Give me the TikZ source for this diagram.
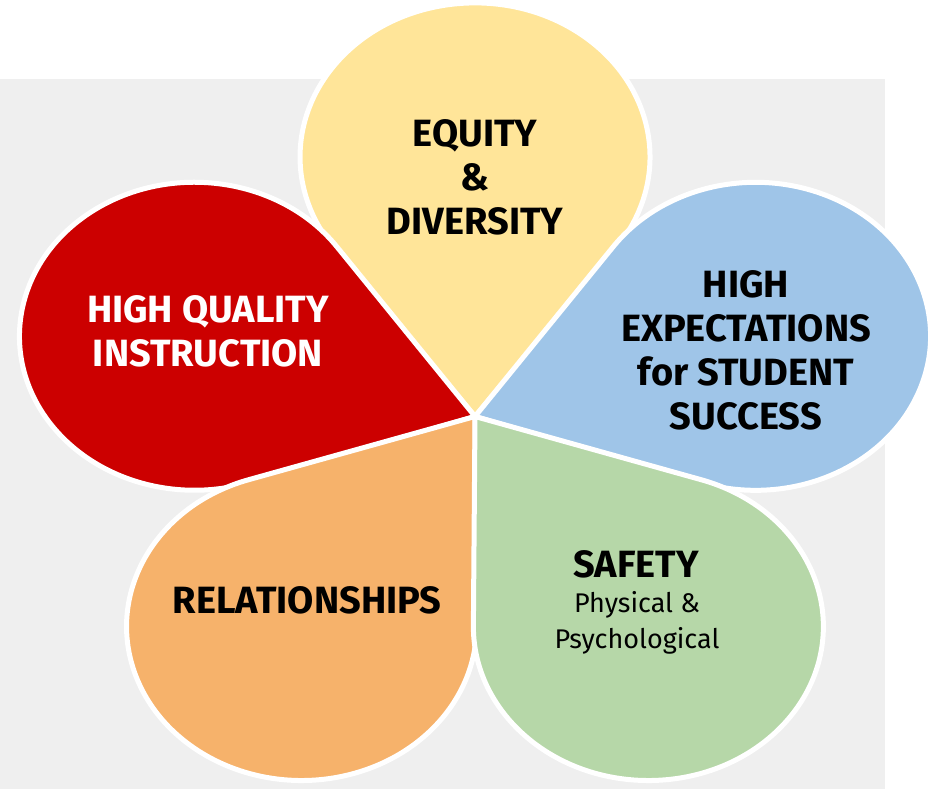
\documentclass[tikz,border=0pt]{standalone}
\usepackage{fontspec}
\setmainfont{Fira Sans}
\definecolor{petalyellow}{HTML}{FFE599}
\definecolor{petalred}{HTML}{CC0000}
\definecolor{petalblue}{HTML}{9FC5E8}
\definecolor{petalorange}{HTML}{F6B26B}
\definecolor{petalgreen}{HTML}{B6D7A8}
\definecolor{bggray}{HTML}{EFEFEF}
\begin{document}
\begin{tikzpicture}[x=1pt, y=1pt,
  petal/.style={fill=#1, draw=white, line width=5pt, line join=round},
  bigtext/.style={font=\bfseries\fontsize{38}{44}\selectfont, align=center, text=black},
  smalltext/.style={font=\fontsize{27}{36}\selectfont, align=center, text=black}]
\useasboundingbox (0,0) rectangle (940,789);
\fill[bggray] (0,0) rectangle (885,710);
\coordinate (tip) at (475,372.5);
% five petals round the tip
\begin{scope}[shift={(tip)}, yscale=0.88]
\foreach \a/\c in {90/petalyellow, 162/petalred, 18/petalblue, 234/petalorange, 306/petalgreen}
  \draw[petal=\c] (0,0) -- (\a-36.39:237.5)
    arc[start angle=\a-126.39, end angle=\a+126.39, radius=175] -- cycle;
\end{scope}
\node[bigtext] (equity) at (475,612) {EQUITY\\\&\\DIVERSITY};
\node[bigtext, text=white] (quality) at (208,458) {HIGH QUALITY\\INSTRUCTION};
\node[bigtext] (expect) at (746,439) {HIGH\\EXPECTATIONS\\for STUDENT\\SUCCESS};
\node[bigtext] (relation) at (307,189) {RELATIONSHIPS};
\node[bigtext] (safety) at (636,224.5) {SAFETY};
\node[smalltext] (psych) at (637,166) {Physical \&\\Psychological};
\end{tikzpicture}
\end{document}
